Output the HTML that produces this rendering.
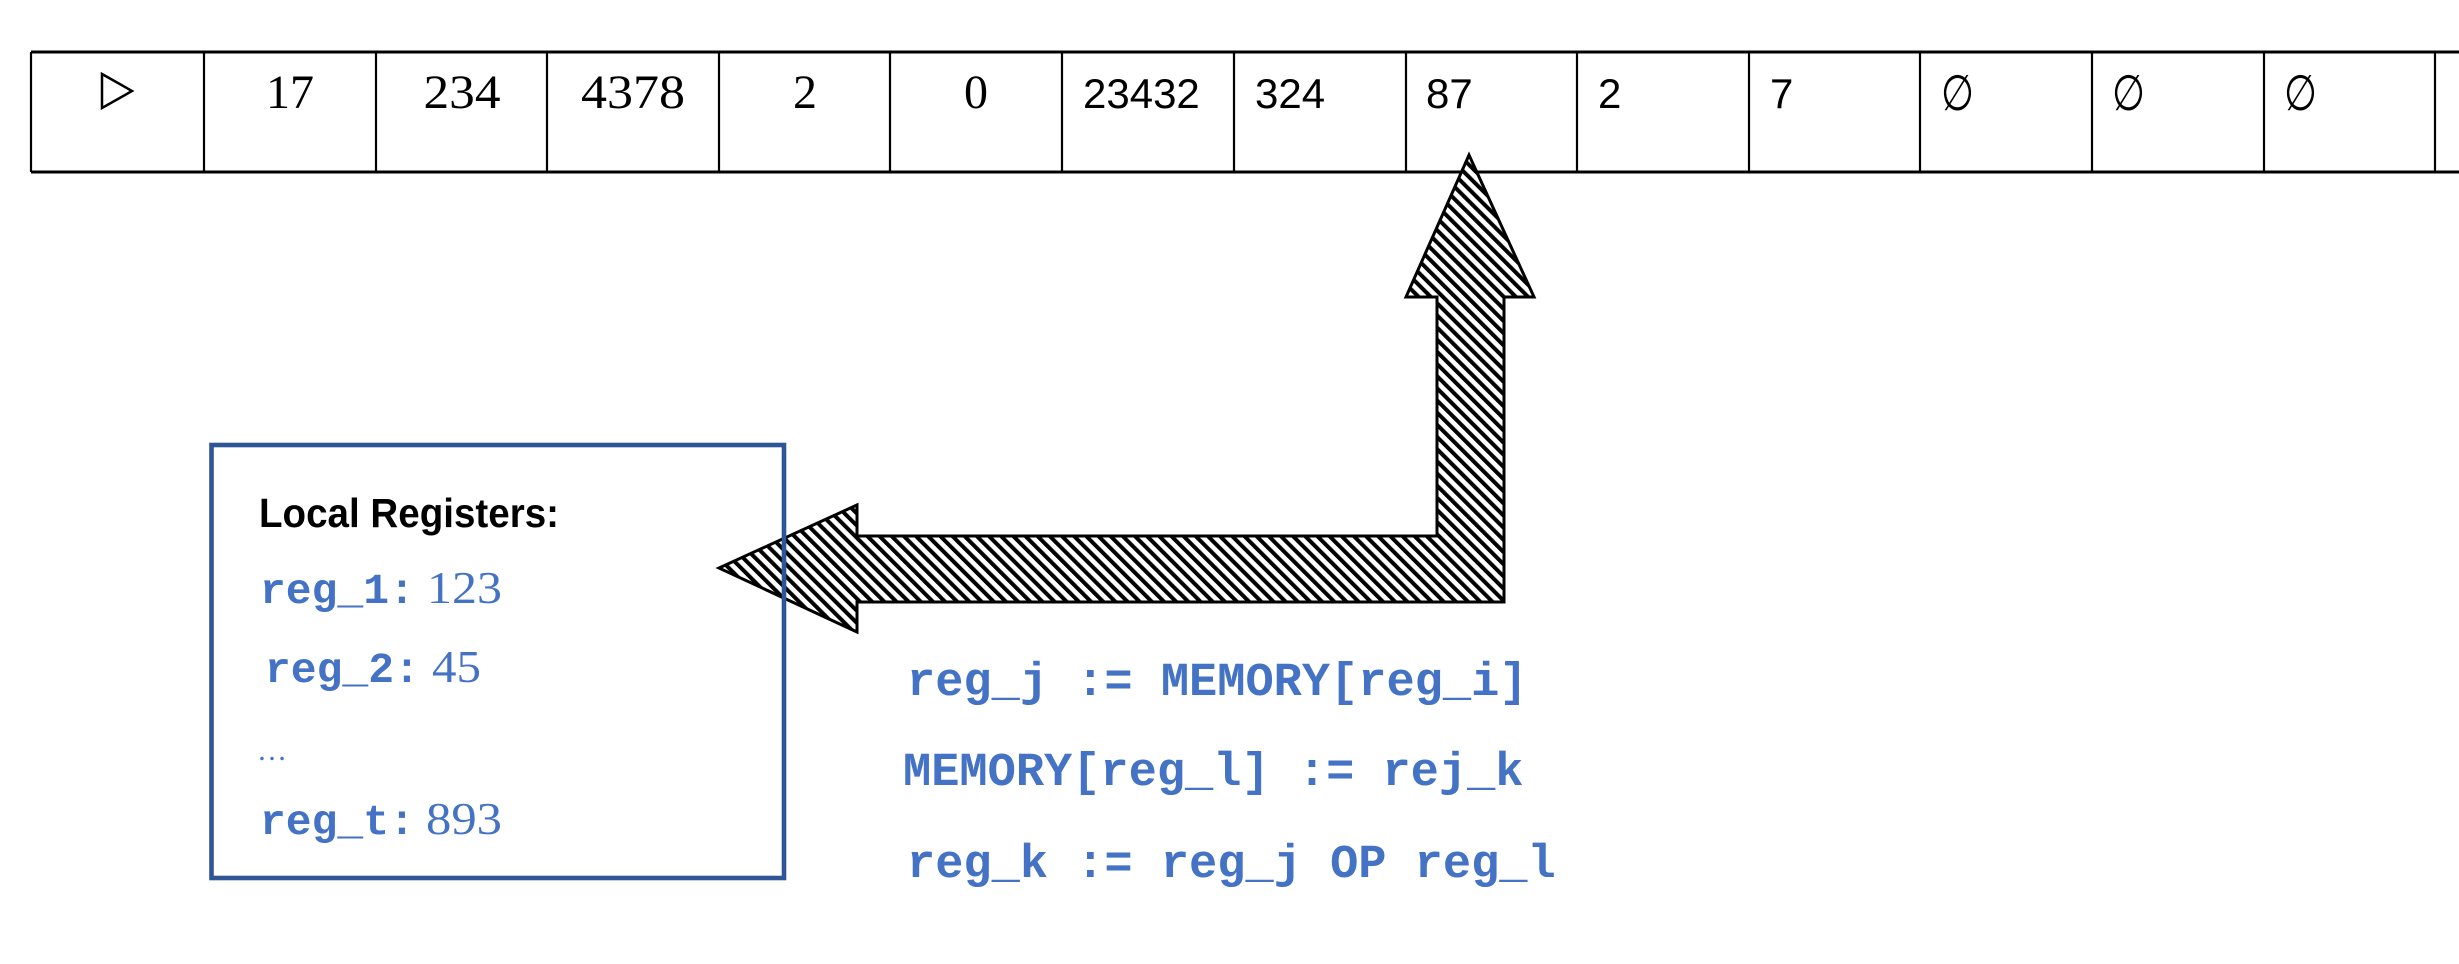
<!DOCTYPE html>
<html>
<head>
<meta charset="utf-8">
<style>
  html,body{margin:0;padding:0;background:#fff;}
  body{width:2459px;height:964px;overflow:hidden;}
  svg{display:block;}
  .serif{font-family:"Liberation Serif","DejaVu Serif",serif;}
  .sans{font-family:"Liberation Sans","DejaVu Sans",sans-serif;}
  .mono{font-family:"Liberation Mono","DejaVu Sans Mono",monospace;font-weight:bold;}
</style>
</head>
<body>
<svg width="2459" height="964" viewBox="0 0 2459 964" xmlns="http://www.w3.org/2000/svg">
  <defs>
    <pattern id="hatch" patternUnits="userSpaceOnUse" width="8.6" height="40" patternTransform="rotate(-45)">
      <rect x="0" y="0" width="8.6" height="40" fill="#fff"/>
      <rect x="0" y="0" width="4" height="40" fill="#000"/>
    </pattern>
  </defs>

  <!-- memory table -->
  <g stroke="#000" fill="none">
    <line x1="31" y1="52" x2="2459" y2="52" stroke-width="3"/>
    <line x1="31" y1="172" x2="2459" y2="172" stroke-width="3"/>
    <g stroke-width="2.2">
      <line x1="31" y1="52" x2="31" y2="172"/>
      <line x1="204" y1="52" x2="204" y2="172"/>
      <line x1="376" y1="52" x2="376" y2="172"/>
      <line x1="547" y1="52" x2="547" y2="172"/>
      <line x1="719" y1="52" x2="719" y2="172"/>
      <line x1="890" y1="52" x2="890" y2="172"/>
      <line x1="1062" y1="52" x2="1062" y2="172"/>
      <line x1="1234" y1="52" x2="1234" y2="172"/>
      <line x1="1406" y1="52" x2="1406" y2="172"/>
      <line x1="1577" y1="52" x2="1577" y2="172"/>
      <line x1="1749" y1="52" x2="1749" y2="172"/>
      <line x1="1920" y1="52" x2="1920" y2="172"/>
      <line x1="2092" y1="52" x2="2092" y2="172"/>
      <line x1="2264" y1="52" x2="2264" y2="172"/>
      <line x1="2435" y1="52" x2="2435" y2="172"/>
    </g>
    <polygon points="102,74 132,91 102,108" stroke-width="2.5"/>
  </g>

  <g class="serif" font-size="48" fill="#000" text-anchor="middle">
    <text x="290" y="108" textLength="48" lengthAdjust="spacingAndGlyphs">17</text>
    <text x="462" y="108" textLength="77" lengthAdjust="spacingAndGlyphs">234</text>
    <text x="633" y="108" textLength="104" lengthAdjust="spacingAndGlyphs">4378</text>
    <text x="805" y="108">2</text>
    <text x="976" y="108">0</text>
  </g>
  <g class="sans" font-size="42" fill="#000">
    <text x="1083" y="108">23432</text>
    <text x="1255" y="108">324</text>
    <text x="1426" y="108">87</text>
    <text x="1598" y="108">2</text>
    <text x="1770" y="108">7</text>
    <text transform="translate(1941,110) scale(0.9,1.18)">∅</text>
    <text transform="translate(2112,110) scale(0.9,1.18)">∅</text>
    <text transform="translate(2284,110) scale(0.9,1.18)">∅</text>
  </g>

  <!-- hatched bent arrow -->
  <polygon points="1469,155 1534,297 1504,297 1504,602 857,602 857,632 719,568 857,505 857,536 1437,536 1437,297 1406,297"
           fill="url(#hatch)" stroke="#000" stroke-width="3" stroke-linejoin="miter"/>

  <!-- local registers box -->
  <rect x="211.5" y="445" width="572.5" height="433" fill="none" stroke="#2F5597" stroke-width="4.6"/>

  <text x="259" y="527" class="sans" font-weight="bold" font-size="41" fill="#000" textLength="300" lengthAdjust="spacingAndGlyphs">Local Registers:</text>

  <g fill="#4472C4">
    <text x="260" y="603" class="mono" font-size="43">reg_1:</text>
    <text x="427" y="603" class="serif" font-size="46" textLength="75" lengthAdjust="spacingAndGlyphs">123</text>

    <text x="265" y="682" class="mono" font-size="43">reg_2:</text>
    <text x="432" y="682" class="serif" font-size="46" textLength="49" lengthAdjust="spacingAndGlyphs">45</text>

    <text x="257" y="760" class="serif" font-size="30">…</text>

    <text x="260" y="834" class="mono" font-size="43">reg_t:</text>
    <text x="426" y="834" class="serif" font-size="46" textLength="76" lengthAdjust="spacingAndGlyphs">893</text>
  </g>

  <!-- code lines -->
  <g class="mono" font-size="47" fill="#4472C4">
    <text x="907" y="695" xml:space="preserve">reg_j := MEMORY[reg_i]</text>
    <text x="903" y="785" xml:space="preserve">MEMORY[reg_l] := rej_k</text>
    <text x="907" y="877" xml:space="preserve">reg_k := reg_j OP reg_l</text>
  </g>
</svg>
</body>
</html>
